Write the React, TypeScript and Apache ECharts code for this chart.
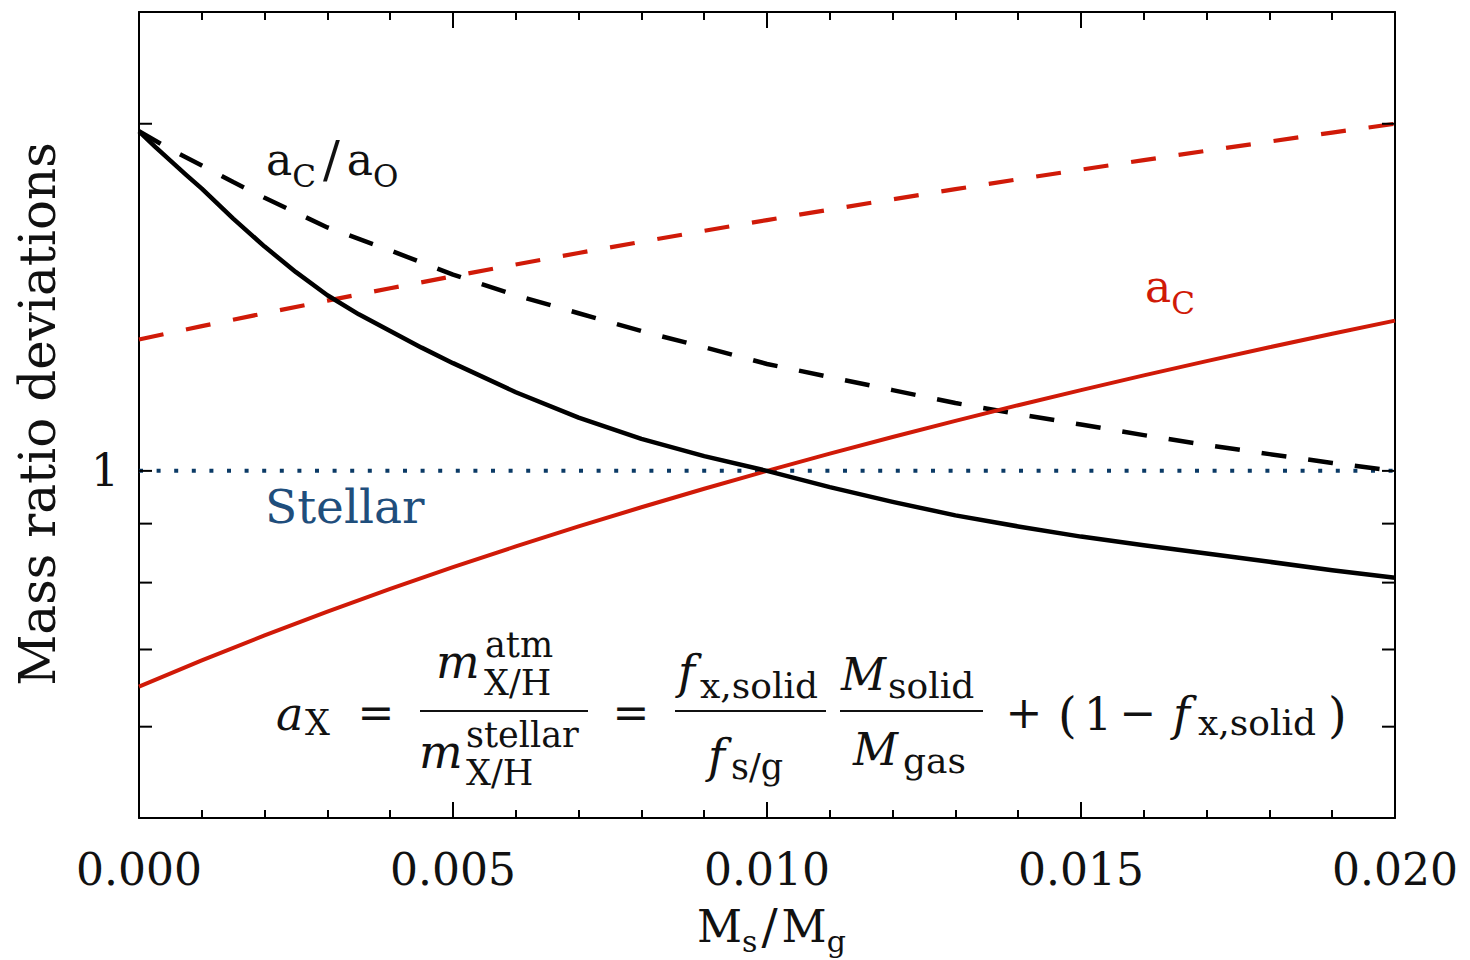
import React, { useEffect, useRef } from "react";
import * as echarts from "echarts";

// Solid-to-gas mass ratio grid (x axis)
const MS_MG = [
  0, 0.001, 0.002, 0.003, 0.004, 0.005, 0.006, 0.007, 0.008, 0.009, 0.01,
  0.011, 0.012, 0.013, 0.014, 0.015, 0.016, 0.017, 0.018, 0.019, 0.02,
];

// a_C, solid red
const A_C = [
  0.65, 0.685, 0.72, 0.755, 0.79, 0.825, 0.86, 0.895, 0.93, 0.965, 1.0,
  1.035, 1.07, 1.105, 1.14, 1.175, 1.21, 1.245, 1.28, 1.315, 1.35,
];

// dashed red curve
const A_C_DASHED = [
  1.3, 1.335, 1.37, 1.405, 1.44, 1.475, 1.51, 1.545, 1.58, 1.615, 1.65,
  1.685, 1.72, 1.755, 1.79, 1.825, 1.86, 1.895, 1.93, 1.965, 2.0,
];

// a_C/a_O, dashed black (denser sampling near the origin where it bends)
const DASHED_X = [
  0, 0.0005, 0.001, 0.0015, 0.002, 0.003, 0.004, 0.005, 0.006, 0.007, 0.008,
  0.009, 0.01, 0.011, 0.012, 0.013, 0.014, 0.015, 0.016, 0.017, 0.018, 0.019,
  0.02,
];
const AC_AO_DASHED = [
  1.97, 1.9, 1.84, 1.78, 1.725, 1.626, 1.553, 1.48, 1.42, 1.37, 1.322, 1.28,
  1.238, 1.206, 1.175, 1.145, 1.12, 1.097, 1.074, 1.053, 1.034, 1.016, 1.0,
];

// solid black curve
const BLACK_X = [
  0, 0.00025, 0.0005, 0.00075, 0.001, 0.0015, 0.002, 0.0025, 0.003, 0.0035,
  0.004, 0.0045, 0.005, 0.006, 0.007, 0.008, 0.009, 0.01, 0.011, 0.012, 0.013,
  0.014, 0.015, 0.016, 0.017, 0.018, 0.019, 0.02,
];
const BLACK_SOLID = [
  1.97, 1.912, 1.858, 1.806, 1.757, 1.655, 1.565, 1.487, 1.42, 1.367, 1.322,
  1.279, 1.24, 1.17, 1.112, 1.066, 1.03, 1.0, 0.968, 0.94, 0.915, 0.895,
  0.877, 0.862, 0.848, 0.834, 0.82, 0.808,
];

const STELLAR = 1;
const Y_TICKS = [0.6, 0.7, 0.8, 0.9, 1, 2];
const X_MIN = 0;
const X_MAX = 0.02;
const Y_MIN = 0.5;
const Y_MAX = 2.5;

const FONT = "'DejaVu Serif', serif";
const RED = "#d01a08";
const NAVY = "#0b3a66";
const STELLAR_TEXT = "#1f4e7c";
const INK = "#111";

const pairs = (xs: number[], ys: number[]) => xs.map((x, i) => [x, ys[i]]);

// text piece placed by its alphabetic baseline
function piece(
  text: string,
  x: number,
  baseline: number,
  size: number,
  opts: { italic?: boolean; color?: string; align?: string } = {}
) {
  const align = opts.align || "left";
  return {
    type: "text",
    x,
    y: baseline - 0.346 * size,
    silent: true,
    style: {
      text,
      fill: opts.color || INK,
      fontSize: size,
      fontFamily: FONT,
      fontStyle: opts.italic ? "italic" : "normal",
      textAlign: align,
      align,
      textVerticalAlign: "middle",
      verticalAlign: "middle",
    },
  };
}

function bar(x1: number, x2: number, y: number) {
  return {
    type: "line",
    silent: true,
    shape: { x1, y1: y, x2, y2: y },
    style: { stroke: INK, lineWidth: 2 },
  };
}

// one rich-text label: big letters with lowered subscripts
function subLabel(
  text: string,
  x: number,
  baseline: number,
  big: number,
  small: number,
  drop: number,
  color: string,
  slash = big,
  slashPad = 0
) {
  const padTop = 2 * (drop + 0.346 * (big - small));
  return {
    type: "text",
    x,
    y: baseline - 0.346 * big,
    silent: true,
    style: {
      text,
      fill: color,
      fontFamily: FONT,
      fontSize: big,
      textAlign: "left",
      align: "left",
      textVerticalAlign: "middle",
      verticalAlign: "middle",
      rich: {
        b: { fontFamily: FONT, fontSize: big, fill: color, color, verticalAlign: "middle" },
        sl: {
          fontFamily: FONT,
          fontSize: slash,
          fill: color,
          color,
          verticalAlign: "middle",
          padding: [0, slashPad, 0, slashPad],
        },
        s: {
          fontFamily: FONT,
          fontSize: small,
          fill: color,
          color,
          verticalAlign: "middle",
          padding: [padTop, 0, 0, 0],
        },
      },
    },
  };
}

export default function App() {
  const ref = useRef<HTMLDivElement>(null);

  useEffect(() => {
    document.body.style.margin = "0";
    if (!ref.current) return;
    const chart = echarts.init(ref.current, null, { renderer: "svg" });

    const axisLineStyle = { color: "#000", width: 2 };
    const xAxisBase = {
      type: "value",
      min: X_MIN,
      max: X_MAX,
      interval: 0.005,
      axisLine: { show: true, onZero: false, lineStyle: axisLineStyle },
      axisTick: { show: true, inside: true, length: 16, lineStyle: axisLineStyle },
      minorTick: { show: true, splitNumber: 5, length: 8, lineStyle: axisLineStyle },
      splitLine: { show: false },
    };
    const yAxisBase = {
      type: "log",
      logBase: 10,
      min: Y_MIN,
      max: Y_MAX,
      axisLine: { show: true, onZero: false, lineStyle: axisLineStyle },
      axisTick: { show: false },
      splitLine: { show: false },
    };

    const graphic = [
      // y axis title
      {
        type: "text",
        x: 38,
        y: 414,
        rotation: Math.PI / 2,
        silent: true,
        style: {
          text: "Mass ratio deviations",
          fill: INK,
          fontSize: 50,
          fontFamily: FONT,
          textAlign: "center",
          align: "center",
          textVerticalAlign: "middle",
          verticalAlign: "middle",
        },
      },
      // x axis title  M_s / M_g
      subLabel("{b|M}{s|s}{sl|/}{b|M}{s|g}", 697, 942, 44, 30, 10, INK, 48, 4),

      // curve labels
      subLabel("{b|a}{s|C}{sl|/}{b|a}{s|O}", 266, 175, 44, 31, 12, INK, 50, 7),
      subLabel("{b|a}{s|C}", 1145, 302, 44, 31, 12, RED),

      piece("Stellar", 265, 523, 47, { color: STELLAR_TEXT }),

      // a_X = m^atm_X/H / m^stellar_X/H = f_x,solid/f_s/g * M_solid/M_gas + (1 - f_x,solid)
      piece("a", 276, 730, 46, { italic: true }),
      piece("X", 305, 735, 35),
      piece("=", 376, 728, 44, { align: "center" }),

      piece("m", 436, 678, 46, { italic: true }),
      piece("atm", 485, 657, 35),
      piece("X/H", 484, 695, 35),
      bar(420, 588, 711),
      piece("m", 419, 768, 46, { italic: true }),
      piece("stellar", 466, 747, 35),
      piece("X/H", 466, 785, 35),

      piece("=", 631, 728, 44, { align: "center" }),

      piece("f", 678, 688, 46, { italic: true }),
      piece("x,solid", 700, 698, 36),
      bar(675, 826, 711),
      piece("f", 708, 772, 46, { italic: true }),
      piece("s/g", 731, 779, 35),

      piece("M", 841, 690, 44, { italic: true }),
      piece("solid", 888, 698, 36),
      bar(840, 983, 711),
      piece("M", 853, 765, 44, { italic: true }),
      piece("gas", 903, 773, 36),

      piece("+", 1024, 728, 44, { align: "center" }),
      piece("(", 1058, 732, 48),
      piece("1", 1084, 730, 44),
      piece("\u2212", 1138, 728, 44, { align: "center" }),
      piece("f", 1173, 730, 46, { italic: true }),
      piece("x,solid", 1198, 735, 36),
      piece(")", 1328, 732, 48),
    ];

    chart.setOption({
      animation: false,
      backgroundColor: "#fff",
      grid: { left: 139, right: 75, top: 12, bottom: 142, containLabel: false },
      xAxis: [
        {
          ...xAxisBase,
          position: "bottom",
          axisLabel: {
            show: true,
            formatter: (v: number) => v.toFixed(3),
            fontFamily: FONT,
            fontSize: 44,
            color: INK,
            margin: 29,
          },
        },
        { ...xAxisBase, position: "top", axisLabel: { show: false } },
      ],
      yAxis: [
        {
          ...yAxisBase,
          position: "left",
          axisLabel: {
            show: true,
            formatter: (v: number) => (Math.abs(v - 1) < 1e-9 ? "1" : ""),
            fontFamily: FONT,
            fontSize: 44,
            color: INK,
            margin: 20,
          },
        },
        { ...yAxisBase, position: "right", axisLabel: { show: false } },
      ],
      graphic,
      series: [
        {
          name: "Stellar",
          type: "line",
          data: [
            [X_MIN, STELLAR],
            [X_MAX, STELLAR],
          ],
          showSymbol: false,
          lineStyle: { color: NAVY, width: 4, type: [4, 13.6], cap: "butt" },
          z: 2,
        },
        {
          name: "a_C dashed",
          type: "line",
          data: pairs(MS_MG, A_C_DASHED),
          showSymbol: false,
          lineStyle: { color: RED, width: 4.2, type: [25, 23], cap: "butt" },
          z: 3,
        },
        {
          name: "a_C/a_O",
          type: "line",
          data: pairs(DASHED_X, AC_AO_DASHED),
          showSymbol: false,
          lineStyle: { color: "#000", width: 4.5, type: [25, 22], cap: "butt", join: "round" },
          z: 3,
        },
        {
          name: "a_C",
          type: "line",
          data: pairs(MS_MG, A_C),
          showSymbol: false,
          lineStyle: { color: RED, width: 4, join: "round" },
          z: 4,
        },
        {
          name: "black solid",
          type: "line",
          data: pairs(BLACK_X, BLACK_SOLID),
          showSymbol: false,
          lineStyle: { color: "#000", width: 4.5, join: "round" },
          z: 4,
        },
        {
          // log-axis tick marks on both vertical edges of the frame
          name: "yTicks",
          type: "custom",
          silent: true,
          clip: false,
          data: Y_TICKS.map((v) => [X_MIN, v]),
          encode: { x: 0, y: 1 },
          renderItem: (_params: any, api: any) => {
            const v = api.value(1);
            const l = api.coord([X_MIN, v]);
            const r = api.coord([X_MAX, v]);
            const st = { stroke: "#000", lineWidth: 2 };
            return {
              type: "group",
              children: [
                { type: "line", shape: { x1: l[0], y1: l[1], x2: l[0] + 13, y2: l[1] }, style: st },
                { type: "line", shape: { x1: r[0] - 13, y1: r[1], x2: r[0], y2: r[1] }, style: st },
              ],
            };
          },
          z: 5,
        },
      ],
    });

    return () => chart.dispose();
  }, []);

  return <div ref={ref} style={{ width: 1470, height: 960 }} />;
}
